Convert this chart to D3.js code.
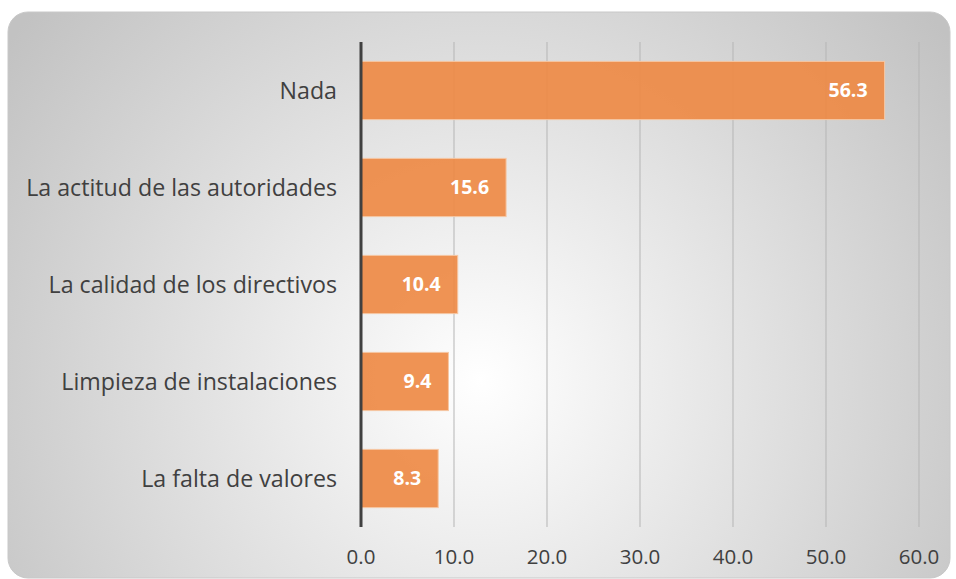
<!DOCTYPE html>
<meta charset="utf-8">
<style>
    body { margin: 0; background: #fff; }
    text { font-family: "Open Sans", sans-serif; }
</style>
<body>
<script src="https://d3js.org/d3.v7.min.js"></script>
<script>

    var width = 956,
        height = 579;

    var categories = ["Nada", "La actitud de las autoridades", "La calidad de los directivos",
        "Limpieza de instalaciones", "La falta de valores"];
    var values = [56.3, 15.6, 10.4, 9.4, 8.3];
    var ticks = [0, 10, 20, 30, 40, 50, 60];

    var x = d3.scaleLinear()
        .domain([0, 60])
        .range([361, 919]);

    var y = d3.scaleBand()
        .domain(categories)
        .range([42, 527])
        .paddingInner(0.4)
        .paddingOuter(0.2);

    var svg = d3.select("body").append("svg")
        .attr("width", width)
        .attr("height", height);

    var grad = svg.append("defs").append("radialGradient")
        .attr("id", "bg")
        .attr("gradientUnits", "userSpaceOnUse")
        .attr("cx", 480).attr("cy", 380).attr("r", 580);
    grad.append("stop").attr("offset", "0%").attr("stop-color", "#ffffff");
    grad.append("stop").attr("offset", "100%").attr("stop-color", "#c2c2c2");

    // card
    svg.append("rect")
        .attr("x", 8).attr("y", 12)
        .attr("width", 942).attr("height", 566)
        .attr("rx", 20)
        .attr("fill", "url(#bg)")
        .attr("stroke", "#c8c8c8")
        .attr("stroke-width", 1);

    // gridlines
    svg.append("g")
        .selectAll("line")
        .data(ticks.slice(1))
        .enter().append("line")
        .attr("x1", function(d) { return x(d); })
        .attr("x2", function(d) { return x(d); })
        .attr("y1", 42)
        .attr("y2", 527)
        .attr("stroke", "#b5b5b5")
        .attr("stroke-width", 1);

    // bars
    svg.append("g")
        .selectAll("rect")
        .data(values)
        .enter().append("rect")
        .attr("x", x(0))
        .attr("y", function(d, i) { return y(categories[i]); })
        .attr("width", function(d) { return x(d) - x(0); })
        .attr("height", y.bandwidth())
        .attr("fill", "#ee8a45")
        .attr("fill-opacity", 0.92)
        .attr("stroke", "#f6c7a3")
        .attr("stroke-width", 1);

    // value labels
    svg.append("g")
        .selectAll("text")
        .data(values)
        .enter().append("text")
        .attr("x", function(d) { return x(d) - 17; })
        .attr("y", function(d, i) { return y(categories[i]) + y.bandwidth() / 2; })
        .attr("dy", "0.35em")
        .attr("text-anchor", "end")
        .attr("fill", "#fff")
        .attr("font-weight", "bold")
        .attr("font-size", 19.5)
        .text(function(d) { return d.toFixed(1); });

    // category labels
    svg.append("g")
        .selectAll("text")
        .data(categories)
        .enter().append("text")
        .attr("x", 337)
        .attr("y", function(d) { return y(d) + y.bandwidth() / 2; })
        .attr("dy", "0.35em")
        .attr("text-anchor", "end")
        .attr("fill", "#404040")
        .attr("font-size", 23.2)
        .text(function(d) { return d; });

    // axis line
    svg.append("line")
        .attr("x1", x(0)).attr("x2", x(0))
        .attr("y1", 42).attr("y2", 527)
        .attr("stroke", "#404040")
        .attr("stroke-width", 3);

    // tick labels
    svg.append("g")
        .selectAll("text")
        .data(ticks)
        .enter().append("text")
        .attr("x", function(d) { return x(d); })
        .attr("y", 557)
        .attr("dy", "0.35em")
        .attr("text-anchor", "middle")
        .attr("fill", "#404040")
        .attr("font-size", 20.5)
        .text(function(d) { return d.toFixed(1); });

</script>
